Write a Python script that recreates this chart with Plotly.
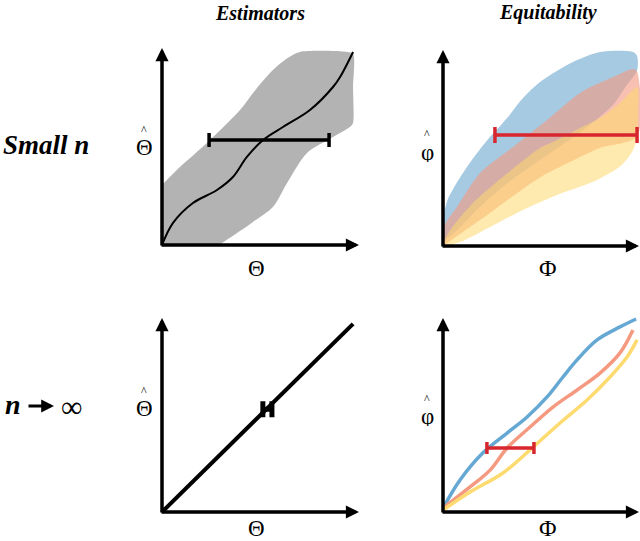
import plotly.graph_objects as go

W, H = 640, 541
SERIF = "Liberation Serif"

# ---- data (axis units: each drawn axis runs 0 -> 100) ----
# top-left: estimator spread for small n
est_band_upper_x = [0, 9.1, 22.8, 39.6, 46.2, 56.3, 64, 70, 94, 97]
est_band_upper_y = [30.5, 39.6, 51.8, 68.5, 77.2, 88.8, 95, 98, 98, 97]
est_band_lower_x = [97, 97, 96, 86.8, 73.6, 63.5, 56.3, 46.2, 38.1, 30.5, 29.4, 0]
est_band_lower_y = [80, 62, 60.4, 54.8, 46.7, 31.5, 19.3, 11.7, 6.1, 1, 0, 0]
est_curve_x = [0, 5.6, 15.7, 27.9, 36, 43.1, 51.3, 61.4, 75.1, 86.8, 90.4, 97]
est_curve_y = [0, 11.2, 21.3, 27.9, 34.5, 44.7, 53.3, 59.9, 68.5, 80.2, 85.3, 98]
est_bar_center = [54.35, 53.3]
est_bar_half = 30.45

# top-right: equitability bands for small n
blue_upper_x = [0, 1, 2.5, 5.1, 12.2, 21.4, 32.7, 40.8, 49.5, 66.3, 80.1, 97, 99]
blue_upper_y = [14, 19, 24, 29, 40.3, 52.6, 65.3, 75.5, 83.7, 93.9, 99, 99, 97]
blue_lower_x = [99, 93, 86.7, 69.9, 49.5, 32.7, 18.9, 7.1, 0]
blue_lower_y = [89.5, 81, 72, 58, 43.9, 32, 20, 8, 2]
red_upper_x = [0, 1.5, 7.1, 18.9, 35.7, 53.1, 69.9, 86.7, 97, 99]
red_upper_y = [8, 12, 19.9, 37.2, 50.5, 64.3, 78.1, 86.2, 90.3, 89]
red_lower_x = [99, 80, 65, 49.5, 35, 20, 10, 0]
red_lower_y = [56, 50, 43, 35, 25, 14, 7, 0]
yellow_upper_x = [0, 3.6, 15.3, 32.7, 49.5, 56.1, 69.9, 80.1, 90.3, 99]
yellow_upper_y = [0, 8, 22, 37, 50, 53, 60.2, 65.3, 73, 81]
yellow_lower_x = [99.5, 99, 97, 90.8, 80, 75, 58.2, 40.8, 24, 8.7, 0]
yellow_lower_y = [68, 56, 49, 41, 34.5, 32.1, 26, 18.4, 9.7, 2, 0]
equi_bar_center = [62.75, 56.6]
equi_bar_half = 36.25

# bottom-left: n -> infinity estimator
lim_line_x = [0, 97]
lim_line_y = [0, 97]
lim_bar_center = [53.5, 53.0]
lim_bar_half = 2.3

# bottom-right: n -> infinity equitability curves
blue_x = [0, 8.7, 20.4, 32.7, 42.9, 53.1, 61.2, 68.4, 78.6, 90.3, 98.5]
blue_y = [2, 16.5, 30.5, 40.7, 49, 59.3, 69.6, 78.4, 88.7, 95.4, 99.5]
orange_x = [0, 13.8, 24, 32.7, 44.4, 56.1, 68.4, 80.1, 90.3, 96.9]
orange_y = [2, 12.9, 21.6, 33, 43.8, 54.1, 62.9, 71.6, 82, 93.8]
yellow_x = [0, 13.8, 30.6, 44.4, 59.7, 73.5, 85.2, 93.9, 99]
yellow_y = [1, 10.3, 20.1, 32, 45.9, 57.7, 69.6, 79.9, 88.7]
lim_equi_bar_center = [34.4, 33]
lim_equi_bar_half = 12


def domain(px0, px1):
    return [px0 / W, px1 / W]


def ydomain(py_bottom, py_top):
    return [1 - py_bottom / H, 1 - py_top / H]


fig = go.Figure()


def band(xs_up, ys_up, xs_lo, ys_lo, color, axes):
    fig.add_trace(go.Scatter(
        x=xs_up + xs_lo, y=ys_up + ys_lo, fill="toself", fillcolor=color,
        mode="lines", line=dict(width=0, shape="spline", smoothing=0.8),
        hoverinfo="skip", showlegend=False, xaxis=axes[0], yaxis=axes[1]))


def curve(xs, ys, color, width, axes):
    fig.add_trace(go.Scatter(
        x=xs, y=ys, mode="lines", line=dict(color=color, width=width, shape="spline"),
        hoverinfo="skip", showlegend=False, xaxis=axes[0], yaxis=axes[1]))


def errbar(center, half, color, thick, cap, axes):
    fig.add_trace(go.Scatter(
        x=[center[0]], y=[center[1]], mode="markers",
        marker=dict(size=1, color="rgba(0,0,0,0)"),
        error_x=dict(type="constant", value=half, thickness=thick, width=cap, color=color),
        hoverinfo="skip", showlegend=False, xaxis=axes[0], yaxis=axes[1]))


TL, TR, BL, BR = ("x", "y"), ("x2", "y2"), ("x3", "y3"), ("x4", "y4")

band(est_band_upper_x, est_band_upper_y, est_band_lower_x, est_band_lower_y, "#b3b3b3", TL)
curve(est_curve_x, est_curve_y, "black", 2, TL)
errbar(est_bar_center, est_bar_half, "black", 3.5, 7, TL)

band(blue_upper_x, blue_upper_y, blue_lower_x, blue_lower_y, "rgba(107,167,207,0.6)", TR)
band(red_upper_x, red_upper_y, red_lower_x, red_lower_y, "rgba(244,154,131,0.62)", TR)
band(yellow_upper_x, yellow_upper_y, yellow_lower_x, yellow_lower_y, "rgba(253,216,110,0.55)", TR)
errbar(equi_bar_center, equi_bar_half, "#d7262e", 3.5, 8, TR)

curve(lim_line_x, lim_line_y, "black", 4, BL)
errbar(lim_bar_center, lim_bar_half, "black", 5, 8, BL)

curve(blue_x, blue_y, "#64a8d3", 3.5, BR)
curve(orange_x, orange_y, "#f59a80", 3.5, BR)
curve(yellow_x, yellow_y, "#fddb70", 3.5, BR)
errbar(lim_equi_bar_center, lim_equi_bar_half, "#d7262e", 3.5, 6, BR)

ax_common = dict(visible=False, fixedrange=True)
layout = dict(
    width=W, height=H, margin=dict(l=0, r=0, t=0, b=0),
    paper_bgcolor="white", plot_bgcolor="rgba(0,0,0,0)", showlegend=False,
    xaxis=dict(domain=domain(162 - 9.85, 162 + 105 * 1.97), range=[-5, 105], **ax_common),
    yaxis=dict(domain=ydomain(245 + 9.85, 245 - 105 * 1.97), range=[-5, 105], **ax_common),
    xaxis2=dict(domain=domain(443 - 9.8, 640), range=[-5, 100.5], **ax_common),
    yaxis2=dict(domain=ydomain(246 + 9.8, 246 - 105 * 1.96), range=[-5, 105], **ax_common),
    xaxis3=dict(domain=domain(162 - 9.85, 162 + 105 * 1.97), range=[-5, 105], **ax_common),
    yaxis3=dict(domain=ydomain(512 + 9.7, 512 - 105 * 1.94), range=[-5, 105], **ax_common),
    xaxis4=dict(domain=domain(443 - 9.8, 640), range=[-5, 100.5], **ax_common),
    yaxis4=dict(domain=ydomain(512 + 9.7, 512 - 105 * 1.94), range=[-5, 105], **ax_common),
)

annotations = []
# axis arrows
for xr, yr in [TL, TR, BL, BR]:
    for tip, tail in [((100, 0), (-1, 0)), ((0, 100), (0, -1))]:
        annotations.append(dict(
            x=tip[0], y=tip[1], ax=tail[0], ay=tail[1], xref=xr, yref=yr,
            axref=xr, ayref=yr, text="", showarrow=True, arrowhead=2,
            arrowsize=0.75, arrowwidth=3.5, arrowcolor="black", standoff=0))

# the arrow in "n -> infinity"
annotations.append(dict(
    x=54 / W, y=1 - 406 / H, ax=-27, ay=0, xref="paper", yref="paper",
    axref="pixel", ayref="pixel", text="", showarrow=True, arrowhead=2,
    arrowsize=0.8, arrowwidth=3.2, arrowcolor="black", standoff=0))


def label(text, px, py, size, **kw):
    annotations.append(dict(
        text=text, x=px / W, y=1 - py / H, xref="paper", yref="paper",
        showarrow=False, xanchor="center", yanchor="middle",
        font=dict(family=SERIF, size=size, color="black"), **kw))


label("<b><i>Estimators</i></b>", 260, 13, 20)
label("<b><i>Equitability</i></b>", 548, 13, 20)
label("<b><i>Small n</i></b>", 46, 145, 27)
label("<b><i>n</i></b>", 13, 404, 28)
label("∞", 71, 406, 30)

# hatted axis labels: letter and a small caret stacked above it
for py_body, py_hat in [(147, 130), (408, 391)]:
    label("Θ", 144, py_body, 23, height=18)
    label("^", 144, py_hat, 12, height=8)
for py_body, py_hat in [(152, 134), (416, 399)]:
    label("φ", 427, py_body, 23, height=20)
    label("^", 427, py_hat, 12, height=8)

label("Θ", 256, 268, 23)
label("Φ", 548, 268, 24)
label("Θ", 256, 528, 23)
label("Φ", 548, 528, 24)

layout["annotations"] = annotations
fig.update_layout(**layout)

fig.write_html("out.html", config={"displayModeBar": False},
               post_script="document.body.style.margin='0px';")
